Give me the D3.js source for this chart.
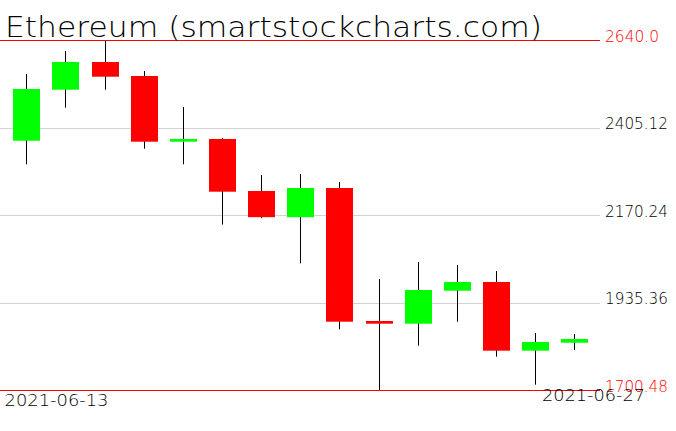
<!DOCTYPE html>
<html><head><meta charset="utf-8">
<script src="https://cdn.jsdelivr.net/npm/d3@7"></script>
<style>body{margin:0;background:#fff}svg{display:block}</style>
</head><body>
<svg id="c" width="676" height="431"></svg>
<script>
const dates = ["2021-06-13","2021-06-14","2021-06-15","2021-06-16","2021-06-17","2021-06-18","2021-06-19","2021-06-20","2021-06-21","2021-06-22","2021-06-23","2021-06-24","2021-06-25","2021-06-26","2021-06-27"];
const open  = [2369.7,2506.6,2580.9,2543.4,2367.0,2374.3,2234.7,2164.4,2242.7,1885.7,1878.5,1967.0,1990.4,1806.0,1827.4];
const high  = [2548.7,2610.5,2638.0,2556.8,2460.2,2377.1,2277.6,2280.3,2258.8,1998.5,2044.1,2036.0,2019.9,1853.5,1850.8];
const low   = [2306.3,2458.3,2506.6,2348.2,2306.3,2144.6,2161.7,2040.6,1863.4,1700.48,1819.4,1883.8,1789.9,1714.7,1807.8];
const close = [2508.5,2580.9,2541.5,2367.0,2374.3,2232.8,2164.4,2242.7,1883.8,1878.5,1968.9,1990.4,1806.0,1829.3,1837.4];
const tickValues = [1700.48,1935.36,2170.24,2405.12,2640.0];
const tickLabels = ["1700.48","1935.36","2170.24","2405.12","2640.0"];
const title = "Ethereum (smartstockcharts.com)";
const xLabels = ["2021-06-13","2021-06-27"];

const svg = d3.select("#c");
const font = "'DejaVu Sans', sans-serif";
const x = d3.scalePoint().domain(dates).range([26.3, 574.3]);
const y = d3.scaleLinear().domain([1700.48, 2640.0]).range([390, 40]);
const bw = 27;

// gridlines
svg.append("g").selectAll("line").data(tickValues).join("line")
  .attr("x1", 0).attr("x2", 600)
  .attr("y1", d => Math.round(y(d)) + 0.5).attr("y2", d => Math.round(y(d)) + 0.5)
  .attr("stroke", (d,i) => (i === 0 || i === tickValues.length-1) ? "#ff0000" : "#d3d3d3")
  .attr("stroke-width", 1);

// axis labels
const ax = d3.axisRight(y).tickValues(tickValues).tickSize(0).tickPadding(0)
  .tickFormat((d,i) => tickLabels[i]);
const g = svg.append("g").attr("transform", "translate(605,0)").call(ax);
g.select(".domain").remove();
g.selectAll("text")
  .attr("font-family", font).attr("font-size", 15).attr("font-weight", 200)
  .attr("dy", 0).attr("y", 1)
  .attr("fill", (d,i) => (i === 0 || i === tickValues.length-1) ? "#ff0000" : "#000")
  .attr("textLength", function(d,i){ return tickLabels[i].length * 9; })
  .attr("lengthAdjust", "spacingAndGlyphs");

// candles
const data = dates.map((d,i) => ({d, o:open[i], h:high[i], l:low[i], c:close[i]}));
const cg = svg.append("g");
cg.selectAll("line.w").data(data).join("line").attr("class","w")
  .attr("x1", d => Math.round(x(d.d)) + 0.5).attr("x2", d => Math.round(x(d.d)) + 0.5)
  .attr("y1", d => y(d.h)).attr("y2", d => y(d.l))
  .attr("stroke", "#000").attr("stroke-width", 1);
cg.selectAll("rect").data(data).join("rect")
  .attr("x", d => Math.round(x(d.d)) - 13)
  .attr("width", bw)
  .attr("y", d => y(Math.max(d.o, d.c)))
  .attr("height", d => Math.max(2.5, Math.abs(y(d.o) - y(d.c))))
  .attr("fill", d => d.c >= d.o ? "#00ff00" : "#ff0000");

// title
svg.append("text").attr("x", 5).attr("y", 37)
  .attr("font-family", font).attr("font-size", 29).attr("font-weight", 200)
  .attr("textLength", 537).attr("lengthAdjust", "spacingAndGlyphs")
  .text(title);

// x labels
svg.append("text").attr("x", 4.5).attr("y", 406)
  .attr("font-family", font).attr("font-size", 15).attr("font-weight", 200)
  .attr("textLength", 104).attr("lengthAdjust", "spacingAndGlyphs")
  .text(xLabels[0]);
svg.append("text").attr("x", 542).attr("y", 401)
  .attr("font-family", font).attr("font-size", 15).attr("font-weight", 200)
  .attr("textLength", 103).attr("lengthAdjust", "spacingAndGlyphs")
  .text(xLabels[1]);
</script>
</body></html>
